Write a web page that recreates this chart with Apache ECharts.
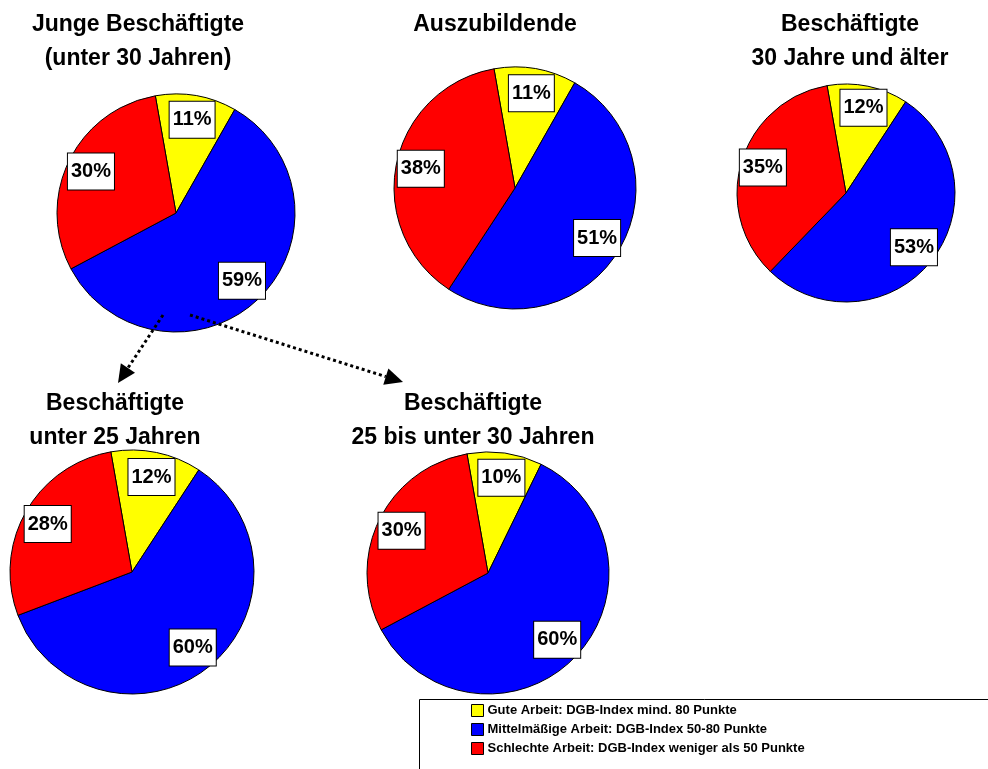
<!DOCTYPE html>
<html>
<head>
<meta charset="utf-8">
<title>DGB-Index Gute Arbeit</title>
<script src="https://cdn.jsdelivr.net/npm/echarts@6/dist/echarts.min.js"></script>
<style>
  html, body { margin: 0; padding: 0; background: #fff; }
  #chart { width: 988px; height: 769px; }
</style>
</head>
<body>
<div id="chart"></div>
<script>
// Kategorien (Legende)
const categories = [
    'Gute Arbeit: DGB-Index mind. 80 Punkte',
    'Mittelmäßige Arbeit: DGB-Index 50-80 Punkte',
    'Schlechte Arbeit: DGB-Index weniger als 50 Punkte'
];
// Gruppen (Titel der Kreise)
const groups = [
    'Junge Beschäftigte\n(unter 30 Jahren)',
    'Auszubildende',
    'Beschäftigte\n30 Jahre und älter',
    'Beschäftigte\nunter 25 Jahren',
    'Beschäftigte\n25 bis unter 30 Jahren'
];
// Anteile in %
const gute = [11, 11, 12, 12, 10];
const mittel = [59, 51, 53, 60, 60];
const schlecht = [30, 38, 35, 28, 30];

const colors = ['#ffff00', '#0000ff', '#ff0000'];
const fontFam = '"Liberation Sans", Arial, Helvetica, sans-serif';

// Lage der Kreise
const centers = [[176, 213], [515, 188], [846, 193], [132, 572], [488, 573]];
const radii = [119, 121, 109, 122, 121];
const titlePos = [[138, 8], [495, 8], [850, 8], [115, 387], [473, 387]];

let myChart = echarts.init(document.getElementById('chart'));

let series = [];
let titles = [];
groups.forEach(function (g, i) {
    let vals = [gute[i], mittel[i], schlecht[i]];
    // der eigentliche Kreis
    series.push({
        type: 'pie',
        center: centers[i],
        radius: [0, radii[i]],
        startAngle: 100,
        silent: true,
        label: { show: false },
        labelLine: { show: false },
        itemStyle: { borderColor: '#000', borderWidth: 1 },
        data: vals.map(function (v, k) {
            return { name: categories[k], value: v, itemStyle: { color: colors[k] } };
        })
    });
    // unsichtbarer Ring nur fuer die Beschriftung (Lage ~0.77 r)
    series.push({
        type: 'pie',
        center: centers[i],
        radius: [radii[i] * 0.54, radii[i]],
        startAngle: 100,
        silent: true,
        avoidLabelOverlap: false,
        itemStyle: { color: 'rgba(0,0,0,0)', borderWidth: 0 },
        label: {
            show: true,
            position: 'inside',
            formatter: '{c}%',
            color: '#000',
            fontFamily: fontFam,
            fontWeight: 'bold',
            fontSize: 20,
            lineHeight: 21,
            backgroundColor: '#fff',
            borderColor: '#000',
            borderWidth: 1,
            padding: [8, 3, 7, 3]
        },
        labelLine: { show: false },
        data: vals.map(function (v, k) {
            return { name: 'l' + k, value: v };
        })
    });
    titles.push({
        text: g,
        left: titlePos[i][0],
        top: titlePos[i][1],
        textAlign: 'center',
        padding: 0,
        textStyle: {
            fontFamily: fontFam,
            fontWeight: 'bold',
            fontSize: 23,
            lineHeight: 34,
            color: '#000'
        }
    });
});

// gepunktete Pfeile
function arrow(x1, y1, x2, y2) {
    let dx = x2 - x1, dy = y2 - y1;
    let len = Math.sqrt(dx * dx + dy * dy);
    let ux = dx / len, uy = dy / len;
    let bx = x2 - ux * 18, by = y2 - uy * 18;
    return [
        {
            type: 'line',
            shape: { x1: x1, y1: y1, x2: bx, y2: by },
            style: { stroke: '#000', lineWidth: 3, lineDash: [3, 3] },
            z: 10
        },
        {
            type: 'polygon',
            shape: { points: [[x2, y2], [bx - uy * 8.5, by + ux * 8.5], [bx + uy * 8.5, by - ux * 8.5]] },
            style: { fill: '#000' },
            z: 10
        }
    ];
}

let graphics = [].concat(
    arrow(163, 315, 118, 383),
    arrow(190, 315, 403, 382),
    [{
        type: 'rect',
        shape: { x: 419.5, y: 699.5, width: 580, height: 80 },
        style: { fill: '#fff', stroke: '#000', lineWidth: 1 },
        z: -1
    }]
);

myChart.setOption({
    animation: false,
    title: titles,
    legend: {
        data: categories,
        orient: 'vertical',
        left: 471,
        top: 703,
        padding: 0,
        itemGap: 4,
        itemWidth: 12,
        itemHeight: 12,
        icon: 'rect',
        selectedMode: false,
        itemStyle: { borderColor: '#000', borderWidth: 1 },
        textStyle: {
            fontFamily: fontFam,
            fontWeight: 'bold',
            fontSize: 13,
            lineHeight: 15,
            color: '#000',
            padding: [0, 0, 0, -1]
        }
    },
    graphic: graphics,
    series: series
});
</script>
</body>
</html>
